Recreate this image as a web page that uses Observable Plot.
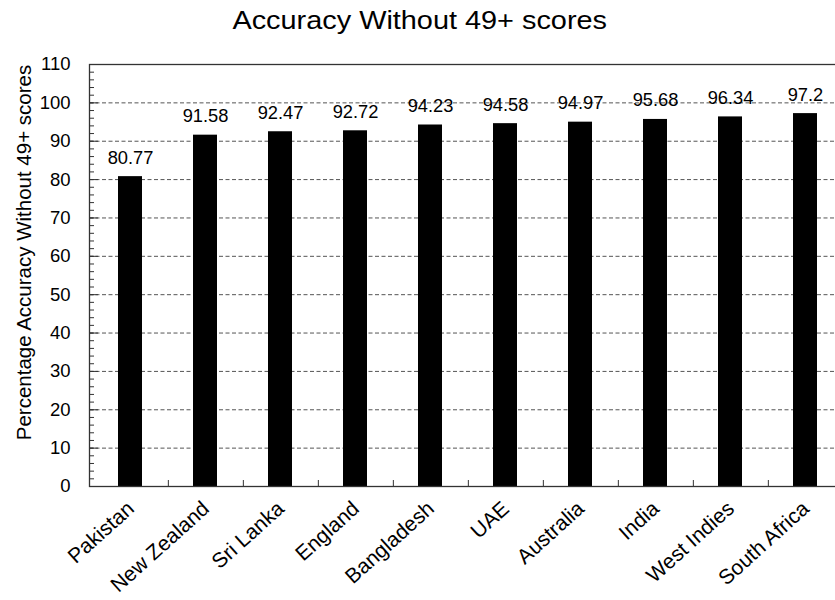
<!DOCTYPE html>
<html>
<head>
<meta charset="utf-8">
<script src="https://cdn.jsdelivr.net/npm/d3@7"></script>
<script src="https://cdn.jsdelivr.net/npm/@observablehq/plot@0.6"></script>
<style>
  html, body { margin: 0; padding: 0; background: #fff; overflow: hidden; }
  #chart { width: 835px; }
  .title {
    font-family: "Liberation Sans", Arial, sans-serif;
    font-size: 26px;
    color: #000;
    text-align: center;
    padding-top: 5px;
    height: 40px;
    line-height: normal;
    width: 840px;
  }
  .title span { display: inline-block; transform: scaleX(1.11); }
</style>
</head>
<body>
<div id="chart">
  <div class="title"><span>Accuracy Without 49+ scores</span></div>
</div>
<script>
// Teams and their percentage accuracy once 49+ scores are removed
const teams = ["Pakistan", "New Zealand", "Sri Lanka", "England", "Bangladesh", "UAE", "Australia", "India", "West Indies", "South Africa"];
const accuracy = [80.77, 91.58, 92.47, 92.72, 94.23, 94.58, 94.97, 95.68, 96.34, 97.2];

// Axis values
const yTicks = [0, 10, 20, 30, 40, 50, 60, 70, 80, 90, 100, 110];
const gridValues = [10, 20, 30, 40, 50, 60, 70, 80, 90, 100];
const minorTicks = d3.range(0, 111, 2);

const yLabel = "Percentage Accuracy Without 49+ scores";

const data = teams.map((team, i) => ({team, value: accuracy[i]}));

// Layout
const width = 835, height = 555;
const marginLeft = 89, marginRight = -11, marginTop = 19, marginBottom = 114;
const frameW = width - marginLeft - marginRight;
const frameH = height - marginTop - marginBottom;
const step = frameW / teams.length;

const chart = Plot.plot({
  width, height, marginLeft, marginRight, marginTop, marginBottom,
  style: {fontFamily: "'Liberation Sans', Arial, sans-serif", fontSize: "18px", color: "#000", background: "#fff"},
  x: {domain: teams, paddingInner: 0.676, paddingOuter: 0.338, axis: null},
  y: {domain: [0, 110], axis: null},
  marks: [
    // dashed horizontal grid
    Plot.ruleY(gridValues, {stroke: "#555", strokeWidth: 1, strokeDasharray: "4,2.5"}),
    // bars
    Plot.barY(data, {x: "team", y: "value", fill: "#000"}),
    // inward y ticks (minor and major)
    Plot.ruleY(minorTicks, {stroke: "#333", strokeWidth: 1, insetRight: frameW - 5}),
    Plot.ruleY(yTicks, {stroke: "#333", strokeWidth: 1, insetRight: frameW - 9}),
    // inward x ticks between categories
    Plot.ruleX(teams.slice(0, -1), {x: d => d, dx: step / 2, stroke: "#333", strokeWidth: 1, insetTop: frameH - 6}),
    // plot frame
    Plot.frame({stroke: "#333", strokeWidth: 1.3}),
    // y tick labels
    Plot.text(yTicks, {y: d => d, text: d => String(d), frameAnchor: "left", textAnchor: "end", dx: -19, fontSize: 18.5, fill: "#000"}),
    // value labels above bars
    Plot.text(data, {x: "team", y: "value", text: d => String(d.value), lineAnchor: "bottom", dy: -13, fontSize: 18.3, fill: "#000"}),
    // rotated category labels
    Plot.text(teams, {x: d => d, frameAnchor: "bottom", rotate: -42, textAnchor: "end", lineAnchor: "bottom", dx: 5, dy: 24, fontSize: 21, fill: "#000"}),
    // y axis title
    Plot.text([yLabel], {frameAnchor: "left", rotate: -90, textAnchor: "middle", lineAnchor: "bottom", dx: -59, dy: -23, fontSize: 20.5, fill: "#000"})
  ]
});

document.getElementById("chart").appendChild(chart);
</script>
</body>
</html>
